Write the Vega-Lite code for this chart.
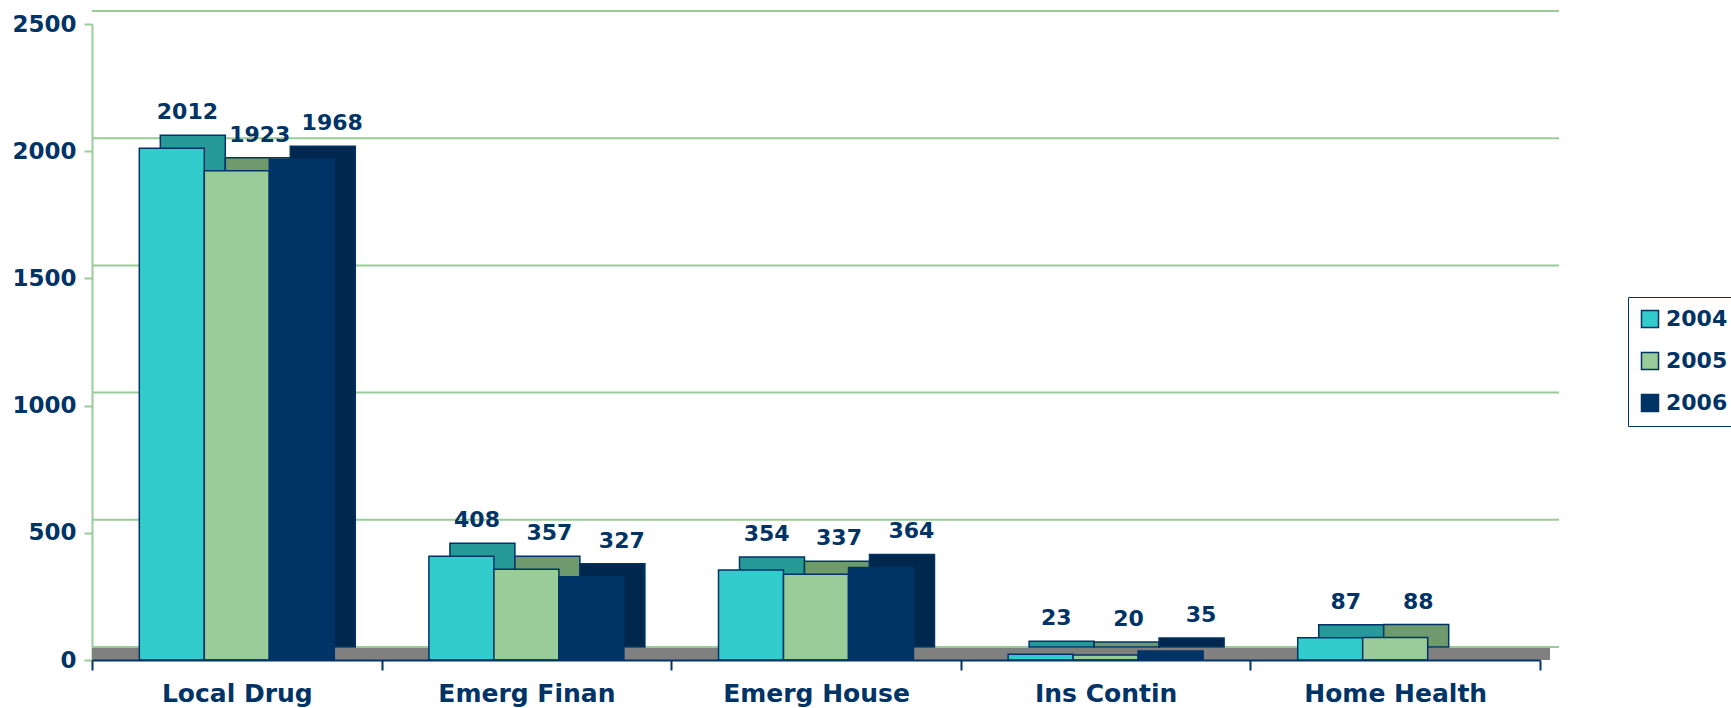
{
  "$schema": "https://vega.github.io/schema/vega-lite/v6.json",
  "autosize": {"type": "none"},
  "width": 1448,
  "height": 636,
  "padding": {"left": 92, "top": 24, "right": 191, "bottom": 48},
  "background": "white",
  "config": {
    "view": {"stroke": null},
    "font": "DejaVu Sans"
  },
  "datasets": {
    "bars": [
      {"category": "Local Drug", "year": "2004", "value": 2012},
      {"category": "Local Drug", "year": "2005", "value": 1923},
      {"category": "Local Drug", "year": "2006", "value": 1968},
      {"category": "Emerg Finan", "year": "2004", "value": 408},
      {"category": "Emerg Finan", "year": "2005", "value": 357},
      {"category": "Emerg Finan", "year": "2006", "value": 327},
      {"category": "Emerg House", "year": "2004", "value": 354},
      {"category": "Emerg House", "year": "2005", "value": 337},
      {"category": "Emerg House", "year": "2006", "value": 364},
      {"category": "Ins Contin", "year": "2004", "value": 23},
      {"category": "Ins Contin", "year": "2005", "value": 20},
      {"category": "Ins Contin", "year": "2006", "value": 35},
      {"category": "Home Health", "year": "2004", "value": 87},
      {"category": "Home Health", "year": "2005", "value": 88}
    ],
    "grid": [
      {"value": 0}, {"value": 500}, {"value": 1000}, {"value": 1500}, {"value": 2000}, {"value": 2500}
    ],
    "floor": [{"value": 0}]
  },
  "encoding": {
    "y": {
      "field": "value", "type": "quantitative",
      "scale": {"domain": [0, 2500], "nice": false},
      "axis": {
        "title": null, "values": [0, 500, 1000, 1500, 2000, 2500], "format": "d", "grid": false,
        "labelFont": "DejaVu Sans", "labelFontSize": 23, "labelFontWeight": "bold",
        "labelColor": "#003366",
        "domainColor": "#99cc99", "domainWidth": 2,
        "tickColor": "#99cc99", "tickWidth": 2, "tickSize": 8,
        "labelPadding": 8
      }
    }
  },
  "layer": [
    {
      "data": {"name": "floor"},
      "mark": {"type": "rect", "fill": "#808080", "xOffset": 10, "x2Offset": 11, "y2Offset": -13},
      "encoding": {"y2": {"datum": 0}}
    },
    {
      "data": {"name": "grid"},
      "mark": {"type": "rule", "color": "#99cc99", "strokeWidth": 2, "yOffset": -13, "xOffset": 19, "x2Offset": 19},
      "encoding": {}
    },
    {
      "data": {"name": "bars"},
      "encoding": {
        "x": {
          "field": "category", "type": "nominal",
          "sort": ["Local Drug", "Emerg Finan", "Emerg House", "Ins Contin", "Home Health"],
          "scale": {"paddingInner": 0, "paddingOuter": 0},
          "axis": {
            "title": null, "labelAngle": 0, "zindex": 1, "labelLimit": 400,
            "labelFont": "DejaVu Sans", "labelFontSize": 25, "labelFontWeight": "bold",
            "labelColor": "#003366",
            "domainColor": "#003366", "domainWidth": 2,
            "tickColor": "#003366", "tickWidth": 2, "tickSize": 10, "tickBand": "extent",
            "labelPadding": 11
          }
        }
      },
      "layer": [
        {
          "mark": {"type": "bar", "yOffset": -13, "stroke": "#003366", "strokeWidth": 1.5},
          "encoding": {
            "xOffset": {"field": "year", "type": "nominal", "scale": {"domain": ["2004", "2005", "2006"], "range": [21, 310.6], "paddingInner": 0, "paddingOuter": 0.728}},
            "color": {
              "field": "year", "type": "nominal",
              "scale": {"domain": ["2004", "2005", "2006"], "range": ["#269999", "#6e9a6e", "#00284f"]},
              "legend": null
            }
          }
        },
        {
          "mark": {"type": "bar", "stroke": "#003366", "strokeWidth": 1.5},
          "encoding": {
            "xOffset": {"field": "year", "type": "nominal", "scale": {"domain": ["2004", "2005", "2006"], "paddingInner": 0, "paddingOuter": 0.728}},
            "fill": {
              "field": "year", "type": "nominal",
              "scale": {"domain": ["2004", "2005", "2006"], "range": ["#33cccc", "#99cc99", "#003366"]},
              "legend": {
                "title": null, "orient": "none", "legendX": 1536, "legendY": 273,
                "symbolType": "square", "symbolSize": 289, "symbolStrokeColor": "#003366", "symbolStrokeWidth": 1.5,
                "labelFont": "DejaVu Sans", "labelFontSize": 22, "labelFontWeight": "bold", "labelColor": "#003366",
                "rowPadding": 18, "padding": 11, "strokeColor": "#003366", "labelOffset": 5
              }
            }
          }
        },
        {
          "mark": {"type": "text", "baseline": "alphabetic", "dx": 23, "dy": -29, "font": "DejaVu Sans", "fontSize": 22, "fontWeight": "bold", "color": "#003366"},
          "encoding": {
            "xOffset": {"field": "year", "type": "nominal", "scale": {"type": "point", "domain": ["2004", "2005", "2006"], "padding": 1.228}},
            "text": {"field": "value", "type": "quantitative"}
          }
        }
      ],
      "resolve": {"scale": {"color": "independent", "fill": "independent", "xOffset": "independent"}}
    }
  ]
}
